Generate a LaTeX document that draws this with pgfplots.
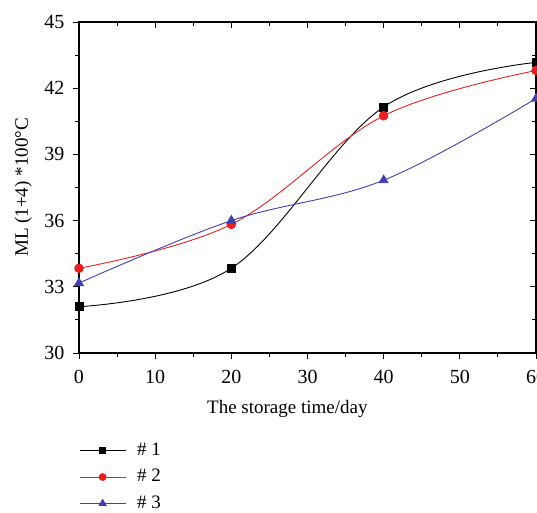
\documentclass[border=0pt]{standalone}
\usepackage{pgfplots}
\pgfplotsset{compat=1.18}
\usepackage{fontspec}
\setmainfont{Liberation Serif}
\usetikzlibrary{calc}
\definecolor{cred}{RGB}{228,32,32}
\definecolor{cblue}{RGB}{64,64,176}
\begin{document}
\fontsize{19}{22}\selectfont
\begin{tikzpicture}[x=1pt,y=1pt]
\pgfplotsset{
  myax/.style={
    name=#1,
    scale only axis, width=457pt, height=331pt,
    xmin=0, xmax=60, ymin=30, ymax=45,
    xtick={0,10,...,60}, ytick={30,33,...,45},
    minor x tick num=1, minor y tick num=1,
    major tick length=6pt, minor tick length=4pt,
    every tick/.style={black, line width=0.9pt},
    /pgf/number format/assume math mode=true,
    tick label style={font=\fontsize{20}{23}\selectfont},
  }
}
\begin{axis}[myax=ax,
  axis line style={line width=1.1pt},
  tick align=outside, xtick pos=bottom, ytick pos=left,
  xticklabel style={yshift=-5pt},
  yticklabel style={xshift=-2pt},
  xlabel={The storage time/day},
  ylabel={ML (1+4) *100\textdegree C},
  xlabel style={at={(axis description cs:0.456,-0.184)}, anchor=base, font=\fontsize{19}{22}\selectfont},
  ylabel style={at={(axis description cs:-0.122,0.5)}, anchor=center, rotate=0, font=\fontsize{19}{22}\selectfont},
  legend style={at={(axis description cs:0,-0.265)}, anchor=north west, draw=none, fill=none,
    inner sep=0pt, row sep=7pt, font=\fontsize{19}{22}\selectfont,
    /tikz/every odd column/.append style={column sep=9pt}},
  legend cell align=left,
  legend image code/.code={\draw[mark repeat=2, mark phase=2, mark options={scale=0.8}] plot coordinates {(0pt,0pt) (23pt,0pt) (46pt,0pt)};},
]
\addplot[black, line width=0.9pt, smooth, tension=0.6, mark=square*, mark size=4pt, mark options={solid}]
  coordinates {(0,32.1) (20,33.84) (40,41.15) (60,43.17)};
\addlegendentry{\# 1}
\addplot[cred, line width=0.9pt, smooth, tension=0.6, mark=*, mark size=4.3pt, mark options={solid}]
  coordinates {(0,33.84) (20,35.83) (40,40.75) (60,42.8)};
\addlegendentry{\# 2}
\addplot[cblue, line width=0.9pt, smooth, tension=0.6, mark=triangle*, mark size=5pt, mark options={solid}]
  coordinates {(0,33.17) (20,36.0) (40,37.83) (60,41.53)};
\addlegendentry{\# 3}
\end{axis}
\begin{axis}[myax=ax2,
  tick align=inside, xtick pos=top, ytick pos=right,
  xticklabels={}, yticklabels={},
  axis line style={draw=none},
]
\end{axis}
\pgfresetboundingbox
\path[use as bounding box] ($(ax.south west)+(-79pt,-159pt)$) rectangle ($(ax.north east)+(1pt,22pt)$);
\end{tikzpicture}
\end{document}
